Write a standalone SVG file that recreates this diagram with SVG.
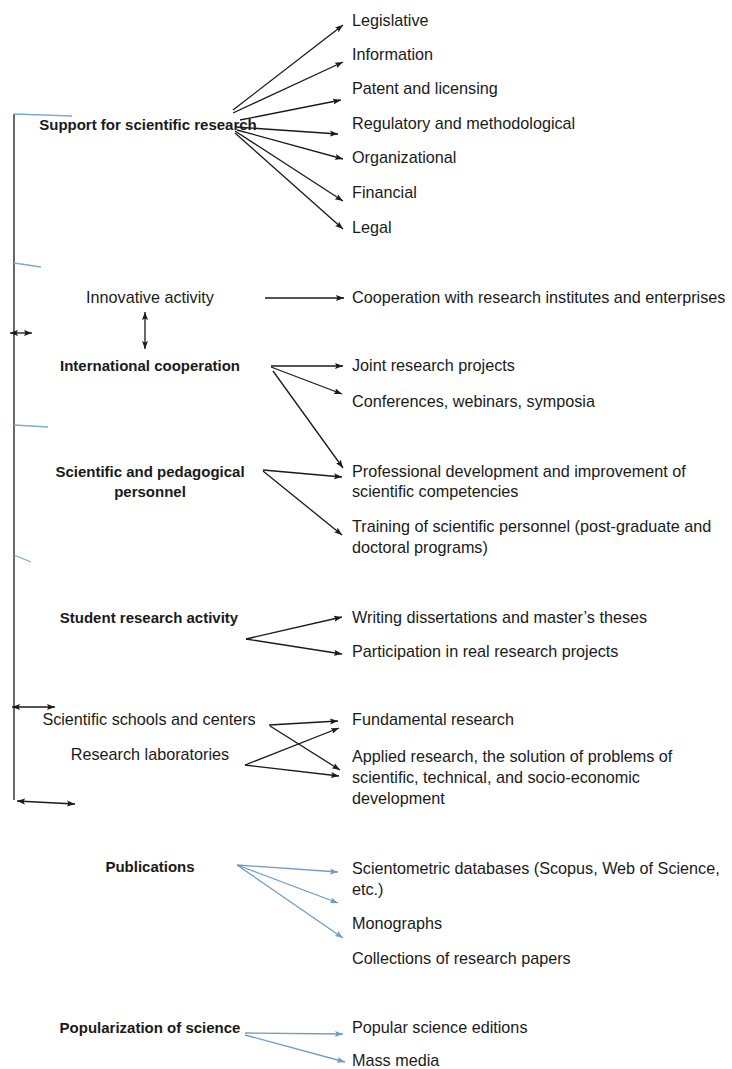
<svg xmlns="http://www.w3.org/2000/svg" width="732" height="1069" viewBox="0 0 732 1069">
<defs>
<style>
text{font-family:"Liberation Sans",Arial,sans-serif;fill:#1a1a1a}
.r{font-size:16.2px}
.b{font-size:15px;font-weight:bold}
.m{text-anchor:middle}
.k{stroke:#1a1a1a;stroke-width:1.3;fill:none}
.bl{stroke:#6f9cc6;stroke-width:1.3;fill:none}
.tk{stroke:#7fa9d2;stroke-width:1.3;fill:none}
</style>
<marker id="ak" markerUnits="userSpaceOnUse" markerWidth="9" markerHeight="7" refX="8" refY="3.5" orient="auto-start-reverse">
<path d="M0,0.5 L8,3.5 L0,6.5 L1.5,3.5 z" fill="#1a1a1a"/>
</marker>
<marker id="ab" markerUnits="userSpaceOnUse" markerWidth="9" markerHeight="7" refX="8" refY="3.5" orient="auto-start-reverse">
<path d="M0,0.5 L8,3.5 L0,6.5 L1.5,3.5 z" fill="#6f9cc6"/>
</marker>
</defs>
<rect width="732" height="1069" fill="#ffffff"/>

<g id="connectors">
<line class="k" x1="14" y1="114" x2="14" y2="800"/>
<line class="tk" x1="14" y1="114" x2="72" y2="116"/>
<line class="tk" x1="14" y1="263" x2="41" y2="267"/>
<line class="tk" x1="14" y1="425" x2="48" y2="427"/>
<line class="tk" x1="14" y1="555" x2="31" y2="562"/>
<line class="k" x1="10" y1="333" x2="32" y2="333" marker-start="url(#ak)" marker-end="url(#ak)"/>
<line class="k" x1="12" y1="707" x2="55" y2="707" marker-start="url(#ak)" marker-end="url(#ak)"/>
<line class="k" x1="17" y1="801" x2="75" y2="804" marker-start="url(#ak)" marker-end="url(#ak)"/>
<line class="k" x1="145" y1="312" x2="145" y2="349" marker-start="url(#ak)" marker-end="url(#ak)"/>

<line class="k" x1="233" y1="110" x2="343" y2="25" marker-end="url(#ak)"/>
<line class="k" x1="233" y1="113" x2="343" y2="62" marker-end="url(#ak)"/>
<line class="k" x1="240" y1="120" x2="341" y2="100" marker-end="url(#ak)"/>
<line class="k" x1="236" y1="127" x2="338" y2="134" marker-end="url(#ak)"/>
<line class="k" x1="237" y1="130" x2="343" y2="159" marker-end="url(#ak)"/>
<line class="k" x1="235" y1="131" x2="343" y2="201" marker-end="url(#ak)"/>
<line class="k" x1="235" y1="133" x2="343" y2="229" marker-end="url(#ak)"/>

<line class="k" x1="265" y1="298" x2="344" y2="298" marker-end="url(#ak)"/>

<line class="k" x1="271" y1="366" x2="343" y2="366" marker-end="url(#ak)"/>
<line class="k" x1="271" y1="367" x2="342" y2="394" marker-end="url(#ak)"/>
<line class="k" x1="273" y1="371" x2="343" y2="468" marker-end="url(#ak)"/>

<line class="k" x1="263" y1="470" x2="342" y2="477" marker-end="url(#ak)"/>
<line class="k" x1="263" y1="471" x2="342" y2="535" marker-end="url(#ak)"/>

<line class="k" x1="246" y1="639" x2="342" y2="617" marker-end="url(#ak)"/>
<line class="k" x1="246" y1="639" x2="342" y2="654" marker-end="url(#ak)"/>

<line class="k" x1="269" y1="725" x2="338" y2="721" marker-end="url(#ak)"/>
<line class="k" x1="270" y1="726" x2="340" y2="770" marker-end="url(#ak)"/>
<line class="k" x1="245" y1="765" x2="339" y2="728" marker-end="url(#ak)"/>
<line class="k" x1="245" y1="765" x2="339" y2="776" marker-end="url(#ak)"/>

<line class="bl" x1="237" y1="865" x2="338" y2="872" marker-end="url(#ab)"/>
<line class="bl" x1="237" y1="865" x2="338" y2="903" marker-end="url(#ab)"/>
<line class="bl" x1="237" y1="865" x2="343" y2="938" marker-end="url(#ab)"/>

<line class="bl" x1="245" y1="1033" x2="343" y2="1034" marker-end="url(#ab)"/>
<line class="bl" x1="245" y1="1035" x2="345" y2="1062" marker-end="url(#ab)"/>
</g>

<g id="support"><text class="b m" x="148" y="130">Support for scientific research</text></g>
<g id="legislative"><text class="r" x="352" y="26">Legislative</text></g>
<g id="information"><text class="r" x="352" y="60">Information</text></g>
<g id="patent"><text class="r" x="352" y="94">Patent and licensing</text></g>
<g id="regulatory"><text class="r" x="352" y="129">Regulatory and methodological</text></g>
<g id="organizational"><text class="r" x="352" y="163">Organizational</text></g>
<g id="financial"><text class="r" x="352" y="198">Financial</text></g>
<g id="legal"><text class="r" x="352" y="233">Legal</text></g>

<g id="innovative"><text class="r m" x="150" y="303">Innovative activity</text></g>
<g id="cooperation-institutes"><text class="r" x="352" y="303">Cooperation with research institutes and enterprises</text></g>

<g id="international"><text class="b m" x="150" y="371">International cooperation</text></g>
<g id="joint"><text class="r" x="352" y="371">Joint research projects</text></g>
<g id="conferences"><text class="r" x="352" y="407">Conferences, webinars, symposia</text></g>

<g id="personnel"><text class="b m" x="150" y="477">Scientific and pedagogical</text><text class="b m" x="150" y="497">personnel</text></g>
<g id="professional"><text class="r" x="352" y="477">Professional development and improvement of</text><text class="r" x="352" y="497">scientific competencies</text></g>
<g id="training"><text class="r" x="352" y="532">Training of scientific personnel (post-graduate and</text><text class="r" x="352" y="553">doctoral programs)</text></g>

<g id="student"><text class="b m" x="149" y="623">Student research activity</text></g>
<g id="writing"><text class="r" x="352" y="623">Writing dissertations and master’s theses</text></g>
<g id="participation"><text class="r" x="352" y="657">Participation in real research projects</text></g>

<g id="schools"><text class="r m" x="149" y="725">Scientific schools and centers</text></g>
<g id="laboratories"><text class="r m" x="150" y="760">Research laboratories</text></g>
<g id="fundamental"><text class="r" x="352" y="725">Fundamental research</text></g>
<g id="applied"><text class="r" x="352" y="762">Applied research, the solution of problems of</text><text class="r" x="352" y="783">scientific, technical, and socio-economic</text><text class="r" x="352" y="804">development</text></g>

<g id="publications"><text class="b m" x="150" y="872">Publications</text></g>
<g id="scientometric"><text class="r" x="352" y="874">Scientometric databases (Scopus, Web of Science,</text><text class="r" x="352" y="895">etc.)</text></g>
<g id="monographs"><text class="r" x="352" y="929">Monographs</text></g>
<g id="collections"><text class="r" x="352" y="964">Collections of research papers</text></g>

<g id="popularization"><text class="b m" x="150" y="1033">Popularization of science</text></g>
<g id="popular-editions"><text class="r" x="352" y="1033">Popular science editions</text></g>
<g id="mass-media"><text class="r" x="352" y="1066">Mass media</text></g>
</svg>
